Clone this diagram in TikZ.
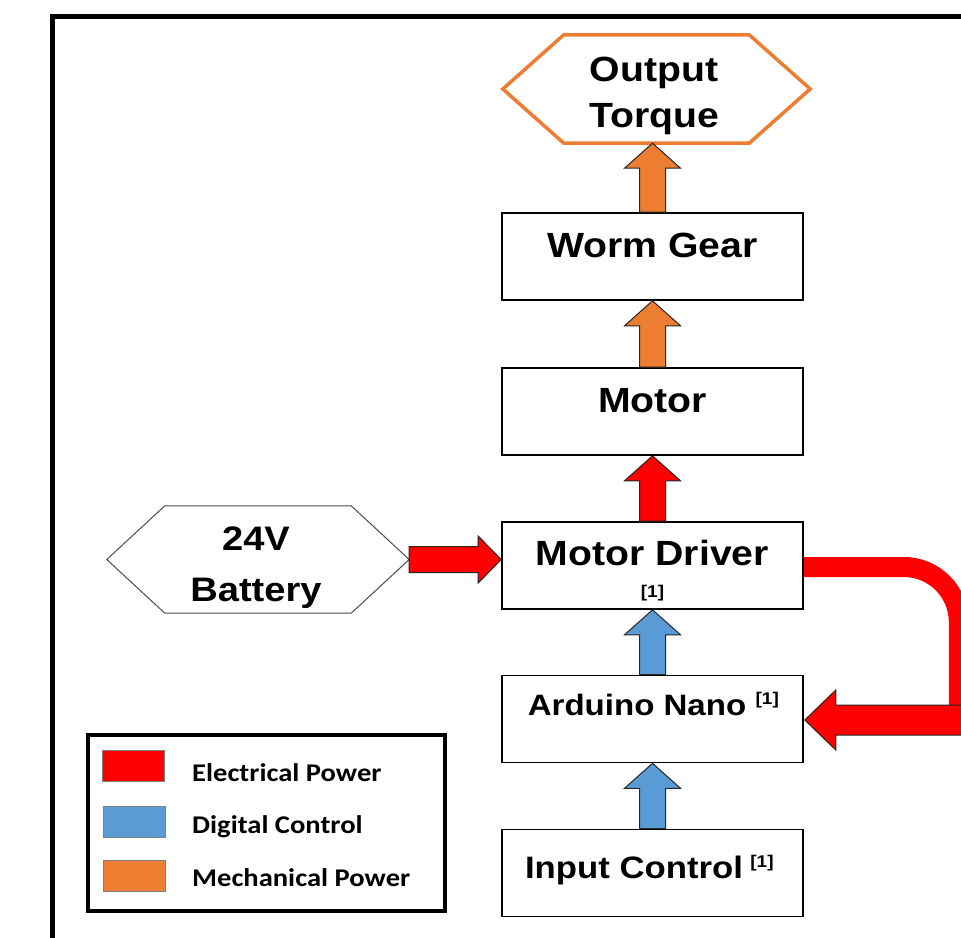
\documentclass[tikz,border=0pt]{standalone}
\usepackage{fontspec}
\setmainfont{Liberation Sans}[FakeStretch=1.12]
\newfontfamily\legfont{Carlito}[FakeStretch=1.12]
\usetikzlibrary{calc}
\definecolor{cred}{HTML}{FF0000}
\definecolor{cblue}{HTML}{5B9BD5}
\definecolor{corange}{HTML}{ED7D31}
\definecolor{cgray}{HTML}{7F7F7F}
\newcommand\blkup[3]{%
  \draw[blk, fill=#3] let \p1=(#1.north), \p2=(#2.south) in
    (\x1-13pt,\y1) -- (\x1-13pt,\y2-25pt) -- (\x1-28pt,\y2-25pt) -- (\x1,\y2)
    -- (\x1+28pt,\y2-25pt) -- (\x1+13pt,\y2-25pt) -- (\x1+13pt,\y1) -- cycle;}
\begin{document}
\begin{tikzpicture}[x=1pt,y=-1pt,
  box/.style={draw=black, line width=1.6pt, minimum width=301pt, minimum height=87pt, inner sep=0pt},
  hexbox/.style={draw=none, inner sep=0pt},
  txt/.style={inner sep=0pt, anchor=base, font=\bfseries\fontsize{35}{42}\selectfont},
  sup/.style={inner sep=0pt, anchor=base west, font=\bfseries\fontsize{17}{20}\selectfont},
  blk/.style={draw=black!85, line width=1pt, line join=miter},
  swatch/.style={draw=cgray, line width=1pt, minimum width=62pt, minimum height=31pt, inner sep=0pt},
  legtxt/.style={inner sep=0pt, anchor=base west, font=\legfont\bfseries\fontsize{25.5}{30}\selectfont}]
\clip (0,0) rectangle (961,937);
\fill[white] (0,0) rectangle (961,937);
% outer frame
\draw[line width=5pt, line join=miter] (52,950) -- (52,16) -- (975,16);

% output torque hexagon
\node[hexbox, minimum width=307pt, minimum height=108pt] (out) at (656.5,89) {};
\draw[corange, line width=3.5pt, line join=miter] (out.west) -- ([xshift=61pt]out.north west) -- ([xshift=-61pt]out.north east)
  -- (out.east) -- ([xshift=-61pt]out.south east) -- ([xshift=61pt]out.south west) -- cycle;
\node[txt] (outa) at (654,81) {Output};
\node[txt] (outb) at (654,127) {Torque};

% boxes
\node[box] (worm) at (652.5,256.5) {};
\node[txt] (wormt) at (652.5,257) {Worm Gear};
\node[box] (motor) at (652.5,411.5) {};
\node[txt] (motort) at (652.5,412) {Motor};
\node[box] (driver) at (652.5,565.5) {};
\node[txt] (drivert) at (652.5,565) {Motor Driver};
\node[inner sep=0pt, anchor=base, font=\bfseries\fontsize{17}{20}\selectfont] (driverref) at (652.5,597) {[1]};
\node[box] (ard) at (652.5,719) {};
\node[txt, font=\bfseries\fontsize{29.5}{36}\selectfont] (ardt) at (637,715) {Arduino Nano};
\node[sup] (ardref) at (ardt.base east) [yshift=11pt, xshift=9pt] {[1]};
\node[box] (inp) at (652.5,873) {};
\node[txt, font=\bfseries\fontsize{31}{36}\selectfont] (inpt) at (634,878) {Input Control};
\node[sup] (inpref) at (inpt.base east) [yshift=11pt, xshift=7pt] {[1]};

% battery hexagon
\node[hexbox, minimum width=302pt, minimum height=107pt] (bat) at (258,559.5) {};
\draw[black!70, line width=1pt, line join=miter] (bat.west) -- ([xshift=58pt]bat.north west) -- ([xshift=-58pt]bat.north east)
  -- (bat.east) -- ([xshift=-58pt]bat.south east) -- ([xshift=58pt]bat.south west) -- cycle;
\node[txt, font=\bfseries\fontsize{34}{40}\selectfont] (bata) at (256,550) {24V};
\node[txt, font=\bfseries\fontsize{34}{40}\selectfont] (batb) at (256,601) {Battery};

% vertical block arrows
\blkup{worm}{out}{corange}
\blkup{motor}{worm}{corange}
\blkup{driver}{motor}{cred}
\blkup{ard}{driver}{cblue}
\blkup{inp}{ard}{cblue}

% battery -> driver
\draw[blk, fill=cred] let \p1=(bat.east), \p2=(driver.west) in
  (\x1,\y1+13pt) -- (\x2-23pt,\y1+13pt) -- (\x2-23pt,\y1+23.5pt) -- (\x2,\y1)
  -- (\x2-23pt,\y1-23.5pt) -- (\x2-23pt,\y1-13pt) -- (\x1,\y1-13pt) -- cycle;

% feedback loop driver -> arduino
\draw[cred, line width=20pt] ([yshift=-1.5pt]driver.east) -- ++(100,0) arc[start angle=-90, end angle=0, radius=55] -- ++(0,87);
\coordinate (loopend) at (975,720);
\draw[blk, fill=cred] let \p1=(loopend), \p2=(ard.east) in
  (\x1,\y1+15pt) -- (\x2+32pt,\y1+15pt) -- (\x2+32pt,\y1+30pt) -- (\x2+1pt,\y1)
  -- (\x2+32pt,\y1-30pt) -- (\x2+32pt,\y1-15pt) -- (\x1,\y1-15pt) -- cycle;

% legend
\node[draw=black, line width=4pt, minimum width=357pt, minimum height=176pt, inner sep=0pt] (legend) at (266.5,823) {};
\node[swatch, fill=cred] (swr) at (133,765.5) {};
\node[swatch, fill=cblue] (swb) at (134,822) {};
\node[swatch, fill=corange] (swo) at (134,875.5) {};
\node[legtxt] (lgr) at (192,781.5) {Electrical Power};
\node[legtxt] (lgb) at (192,833.5) {Digital Control};
\node[legtxt] (lgo) at (192,886.5) {Mechanical Power};
\end{tikzpicture}
\end{document}
